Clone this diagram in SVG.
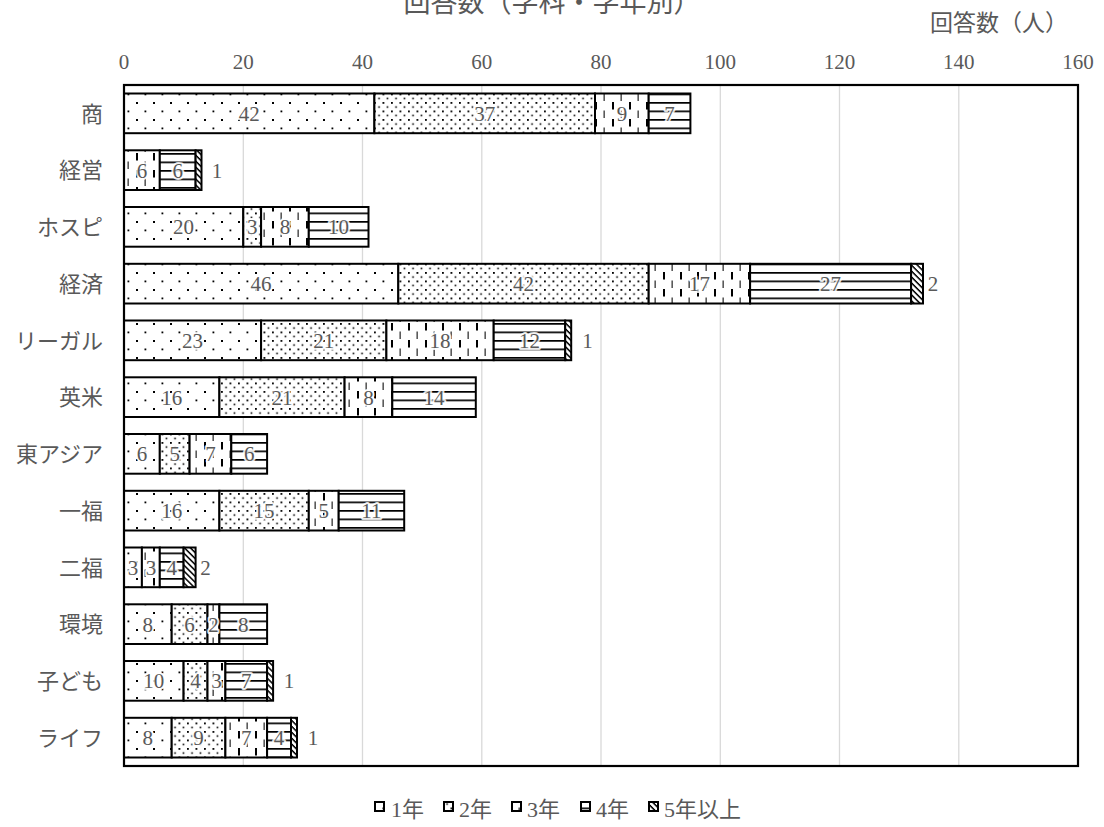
<svg xmlns="http://www.w3.org/2000/svg" width="1104" height="827" viewBox="0 0 1104 827">
<style>
.t{font-family:"Liberation Serif","Noto Sans CJK JP",serif;fill:#595959}
.j{font-family:"Noto Sans CJK JP","Liberation Serif",sans-serif;fill:#595959}
.ax{font-size:21px;text-anchor:middle}
.cat{font-size:22px;text-anchor:end}
.dl{font-size:21px;text-anchor:middle;stroke:#fff;stroke-width:4;stroke-opacity:0.85;paint-order:stroke;stroke-linejoin:round}
.ol{font-size:21px;text-anchor:middle}
.g{stroke:#d9d9d9;stroke-width:1.3}
.s{stroke:#000;stroke-width:2}
.s1{fill:url(#p1)}.s2{fill:url(#p2)}.s3{fill:url(#p3)}.s4{fill:url(#p4)}.s5{fill:url(#p5)}
.lg{font-size:22px}
.lk{stroke:#000;stroke-width:2}
</style>
<defs>
<pattern id="p1" patternUnits="userSpaceOnUse" width="17" height="17">
<rect width="17" height="17" fill="#fff"/>
<rect x="0" y="0" width="2" height="2" fill="#000"/>
<rect x="8.5" y="8.5" width="1.8" height="1.8" fill="#000"/>
</pattern>
<pattern id="p2" patternUnits="userSpaceOnUse" width="8.5" height="8.5">
<rect width="8.5" height="8.5" fill="#fff"/>
<rect x="0" y="0" width="1.8" height="1.8" fill="#000"/>
<rect x="4.25" y="4.25" width="1.6" height="1.6" fill="#000"/>
</pattern>
<pattern id="p3" patternUnits="userSpaceOnUse" width="17" height="17">
<rect width="17" height="17" fill="#fff"/>
<rect x="0" y="0" width="2" height="7.5" fill="#000"/>
<rect x="8.5" y="8.5" width="1.3" height="7.5" fill="#333"/>
</pattern>
<pattern id="p4" patternUnits="userSpaceOnUse" width="10" height="8.5">
<rect width="10" height="8.5" fill="#fff"/>
<rect x="0" y="0" width="10" height="1.7" fill="#000"/>
</pattern>
<pattern id="p5" patternUnits="userSpaceOnUse" width="4.2" height="4.2" patternTransform="rotate(45)">
<rect width="4.2" height="4.2" fill="#fff"/>
<rect x="0" y="0" width="4.2" height="1.5" fill="#000"/>
</pattern>
</defs>
<rect width="1104" height="827" fill="#fff"/>
<g id="title">
<text class="j" x="552" y="12" font-size="27" text-anchor="middle">回答数（学科・学年別）</text>
<text class="j" x="999" y="31" font-size="23" text-anchor="middle">回答数（人）</text>
</g>
<g id="grid">
<line class="g" x1="243.3" y1="85" x2="243.3" y2="766"/>
<line class="g" x1="362.5" y1="85" x2="362.5" y2="766"/>
<line class="g" x1="481.8" y1="85" x2="481.8" y2="766"/>
<line class="g" x1="601" y1="85" x2="601" y2="766"/>
<line class="g" x1="720.3" y1="85" x2="720.3" y2="766"/>
<line class="g" x1="839.5" y1="85" x2="839.5" y2="766"/>
<line class="g" x1="958.8" y1="85" x2="958.8" y2="766"/>
</g>
<g id="axis-x">
<text class="t ax" x="124" y="69">0</text>
<text class="t ax" x="243.3" y="69">20</text>
<text class="t ax" x="362.5" y="69">40</text>
<text class="t ax" x="481.8" y="69">60</text>
<text class="t ax" x="601" y="69">80</text>
<text class="t ax" x="720.3" y="69">100</text>
<text class="t ax" x="839.5" y="69">120</text>
<text class="t ax" x="958.8" y="69">140</text>
<text class="t ax" x="1078" y="69">160</text>
</g>
<g id="row-shou">
<text class="j cat" x="103" y="121.5">商</text>
<rect class="s s1" x="124" y="93.5" width="250.4" height="39.7"/>
<rect class="s s2" x="374.4" y="93.5" width="220.6" height="39.7"/>
<rect class="s s3" x="595" y="93.5" width="53.7" height="39.7"/>
<rect class="s s4" x="648.7" y="93.5" width="41.7" height="39.7"/>
<text class="t dl" x="249.2" y="120.9">42</text>
<text class="t dl" x="484.7" y="120.9">37</text>
<text class="t dl" x="621.9" y="120.9">9</text>
<text class="t dl" x="669.6" y="120.9">7</text>
</g>
<g id="row-keiei">
<text class="j cat" x="103" y="178.2">経営</text>
<rect class="s s3" x="124" y="150.3" width="35.8" height="39.7"/>
<rect class="s s4" x="159.8" y="150.3" width="35.8" height="39.7"/>
<rect class="s s5" x="195.6" y="150.3" width="5.9" height="39.7"/>
<text class="t dl" x="141.9" y="177.6">6</text>
<text class="t dl" x="177.7" y="177.6">6</text>
<text class="t ol" x="217" y="177.6">1</text>
</g>
<g id="row-hospi">
<text class="j cat" x="103" y="235">ホスピ</text>
<rect class="s s1" x="124" y="207" width="119.3" height="39.7"/>
<rect class="s s2" x="243.3" y="207" width="17.8" height="39.7"/>
<rect class="s s3" x="261.1" y="207" width="47.7" height="39.7"/>
<rect class="s s4" x="308.8" y="207" width="59.7" height="39.7"/>
<text class="t dl" x="183.6" y="234.4">20</text>
<text class="t dl" x="252.2" y="234.4">3</text>
<text class="t dl" x="285" y="234.4">8</text>
<text class="t dl" x="338.6" y="234.4">10</text>
</g>
<g id="row-keizai">
<text class="j cat" x="103" y="291.7">経済</text>
<rect class="s s1" x="124" y="263.8" width="274.3" height="39.7"/>
<rect class="s s2" x="398.3" y="263.8" width="250.4" height="39.7"/>
<rect class="s s3" x="648.7" y="263.8" width="101.4" height="39.7"/>
<rect class="s s4" x="750.1" y="263.8" width="161" height="39.7"/>
<rect class="s s5" x="911.1" y="263.8" width="11.9" height="39.7"/>
<text class="t dl" x="261.1" y="291.1">46</text>
<text class="t dl" x="523.5" y="291.1">42</text>
<text class="t dl" x="699.4" y="291.1">17</text>
<text class="t dl" x="830.6" y="291.1">27</text>
<text class="t ol" x="933" y="291.1">2</text>
</g>
<g id="row-legal">
<text class="j cat" x="103" y="348.5">リーガル</text>
<rect class="s s1" x="124" y="320.5" width="137.1" height="39.7"/>
<rect class="s s2" x="261.1" y="320.5" width="125.3" height="39.7"/>
<rect class="s s3" x="386.4" y="320.5" width="107.3" height="39.7"/>
<rect class="s s4" x="493.7" y="320.5" width="71.5" height="39.7"/>
<rect class="s s5" x="565.2" y="320.5" width="6" height="39.7"/>
<text class="t dl" x="192.6" y="347.9">23</text>
<text class="t dl" x="323.7" y="347.9">21</text>
<text class="t dl" x="440" y="347.9">18</text>
<text class="t dl" x="529.5" y="347.9">12</text>
<text class="t ol" x="587.5" y="347.9">1</text>
</g>
<g id="row-eibei">
<text class="j cat" x="103" y="405.2">英米</text>
<rect class="s s1" x="124" y="377.3" width="95.4" height="39.7"/>
<rect class="s s2" x="219.4" y="377.3" width="125.2" height="39.7"/>
<rect class="s s3" x="344.6" y="377.3" width="47.7" height="39.7"/>
<rect class="s s4" x="392.3" y="377.3" width="83.5" height="39.7"/>
<text class="t dl" x="171.7" y="404.6">16</text>
<text class="t dl" x="282" y="404.6">21</text>
<text class="t dl" x="368.5" y="404.6">8</text>
<text class="t dl" x="434" y="404.6">14</text>
</g>
<g id="row-higashiasia">
<text class="j cat" x="103" y="462">東アジア</text>
<rect class="s s1" x="124" y="434" width="35.8" height="39.7"/>
<rect class="s s2" x="159.8" y="434" width="29.8" height="39.7"/>
<rect class="s s3" x="189.6" y="434" width="41.7" height="39.7"/>
<rect class="s s4" x="231.3" y="434" width="35.8" height="39.7"/>
<text class="t dl" x="141.9" y="461.4">6</text>
<text class="t dl" x="174.7" y="461.4">5</text>
<text class="t dl" x="210.5" y="461.4">7</text>
<text class="t dl" x="249.2" y="461.4">6</text>
</g>
<g id="row-ichifuku">
<text class="j cat" x="103" y="518.7">一福</text>
<rect class="s s1" x="124" y="490.8" width="95.4" height="39.7"/>
<rect class="s s2" x="219.4" y="490.8" width="89.4" height="39.7"/>
<rect class="s s3" x="308.8" y="490.8" width="29.9" height="39.7"/>
<rect class="s s4" x="338.7" y="490.8" width="65.5" height="39.7"/>
<text class="t dl" x="171.7" y="518.1">16</text>
<text class="t dl" x="264.1" y="518.1">15</text>
<text class="t dl" x="323.7" y="518.1">5</text>
<text class="t dl" x="371.4" y="518.1">11</text>
</g>
<g id="row-nifuku">
<text class="j cat" x="103" y="575.5">二福</text>
<rect class="s s1" x="124" y="547.5" width="17.9" height="39.7"/>
<rect class="s s3" x="141.9" y="547.5" width="17.9" height="39.7"/>
<rect class="s s4" x="159.8" y="547.5" width="23.8" height="39.7"/>
<rect class="s s5" x="183.6" y="547.5" width="12" height="39.7"/>
<text class="t dl" x="132.9" y="574.9">3</text>
<text class="t dl" x="150.9" y="574.9">3</text>
<text class="t dl" x="171.7" y="574.9">4</text>
<text class="t ol" x="205.5" y="574.9">2</text>
</g>
<g id="row-kankyo">
<text class="j cat" x="103" y="632.2">環境</text>
<rect class="s s1" x="124" y="604.3" width="47.7" height="39.7"/>
<rect class="s s2" x="171.7" y="604.3" width="35.8" height="39.7"/>
<rect class="s s3" x="207.5" y="604.3" width="11.9" height="39.7"/>
<rect class="s s4" x="219.4" y="604.3" width="47.7" height="39.7"/>
<text class="t dl" x="147.8" y="631.6">8</text>
<text class="t dl" x="189.6" y="631.6">6</text>
<text class="t dl" x="213.4" y="631.6">2</text>
<text class="t dl" x="243.3" y="631.6">8</text>
</g>
<g id="row-kodomo">
<text class="j cat" x="103" y="689">子ども</text>
<rect class="s s1" x="124" y="661" width="59.6" height="39.7"/>
<rect class="s s2" x="183.6" y="661" width="23.9" height="39.7"/>
<rect class="s s3" x="207.5" y="661" width="17.9" height="39.7"/>
<rect class="s s4" x="225.4" y="661" width="41.7" height="39.7"/>
<rect class="s s5" x="267.1" y="661" width="6" height="39.7"/>
<text class="t dl" x="153.8" y="688.4">10</text>
<text class="t dl" x="195.6" y="688.4">4</text>
<text class="t dl" x="216.4" y="688.4">3</text>
<text class="t dl" x="246.2" y="688.4">7</text>
<text class="t ol" x="289" y="688.4">1</text>
</g>
<g id="row-life">
<text class="j cat" x="103" y="745.7">ライフ</text>
<rect class="s s1" x="124" y="717.8" width="47.7" height="39.7"/>
<rect class="s s2" x="171.7" y="717.8" width="53.7" height="39.7"/>
<rect class="s s3" x="225.4" y="717.8" width="41.7" height="39.7"/>
<rect class="s s4" x="267.1" y="717.8" width="23.9" height="39.7"/>
<rect class="s s5" x="291" y="717.8" width="6" height="39.7"/>
<text class="t dl" x="147.8" y="745.1">8</text>
<text class="t dl" x="198.6" y="745.1">9</text>
<text class="t dl" x="246.2" y="745.1">7</text>
<text class="t dl" x="279" y="745.1">4</text>
<text class="t ol" x="313" y="745.1">1</text>
</g>
<g id="plot-border">
<rect x="124" y="85" width="954" height="681" fill="none" stroke="#000" stroke-width="2.2"/>
</g>
<g id="legend">
<rect class="lk s1" x="375" y="802" width="9" height="9"/>
<text class="t lg" x="391" y="817">1年</text>
<rect class="lk s2" x="444" y="802" width="9" height="9"/>
<text class="t lg" x="459" y="817">2年</text>
<rect class="lk s3" x="512" y="802" width="9" height="9"/>
<text class="t lg" x="527" y="817">3年</text>
<rect class="lk s4" x="581" y="802" width="9" height="9"/>
<text class="t lg" x="596" y="817">4年</text>
<rect class="lk s5" x="649" y="802" width="9" height="9"/>
<text class="t lg" x="664" y="817">5年以上</text>
</g>
</svg>
